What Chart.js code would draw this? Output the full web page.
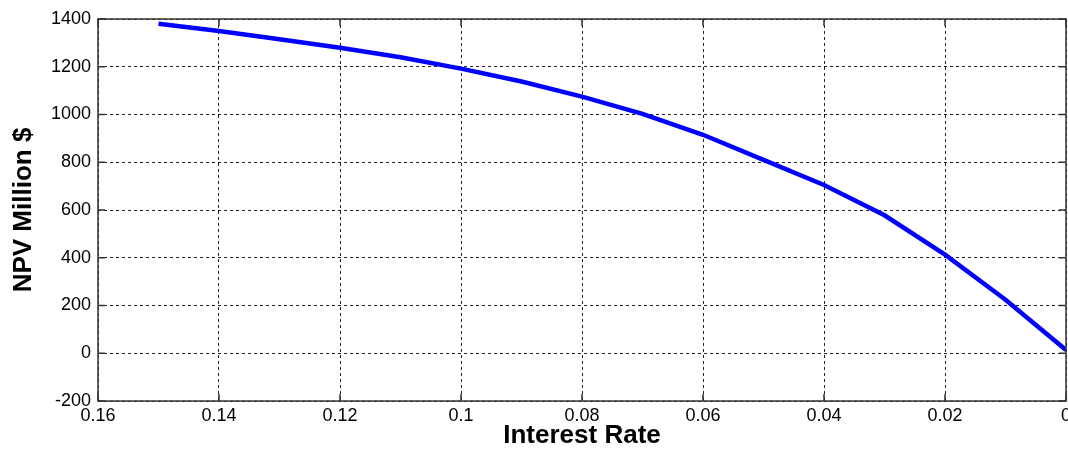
<!DOCTYPE html>
<html>
<head>
<meta charset="utf-8">
<script src="https://cdn.jsdelivr.net/npm/chart.js@4/dist/chart.umd.min.js"></script>
<style>
  html, body { margin: 0; padding: 0; background: #fff; }
  #wrap { width: 1068px; height: 449px; }
</style>
</head>
<body>
<div id="wrap"><canvas id="npvChart"></canvas></div>
<script>
const rates = [0.15, 0.14, 0.13, 0.12, 0.11, 0.10, 0.09, 0.08, 0.07, 0.06, 0.05, 0.04, 0.03, 0.02, 0.01, 0];
const npv = [1380, 1350, 1315, 1280, 1240, 1192, 1138, 1075, 1003, 915, 810, 705, 578, 413, 224, 14];
const xTicks = [0.16, 0.14, 0.12, 0.1, 0.08, 0.06, 0.04, 0.02, 0];
const yTicks = [-200, 0, 200, 400, 600, 800, 1000, 1200, 1400];

const points = rates.map((r, i) => ({ x: r, y: npv[i] }));

// box round the plot plus the small inward tick marks
const frame = {
  id: 'frame',
  afterDraw(chart) {
    const { ctx, chartArea: a, scales } = chart;
    ctx.save();
    ctx.strokeStyle = '#333';
    ctx.lineWidth = 1.5;
    ctx.setLineDash([]);
    ctx.strokeRect(a.left, a.top, a.right - a.left, a.bottom - a.top);
    ctx.beginPath();
    xTicks.forEach(v => {
      const px = scales.x.getPixelForValue(v);
      ctx.moveTo(px, a.bottom); ctx.lineTo(px, a.bottom - 7);
      ctx.moveTo(px, a.top); ctx.lineTo(px, a.top + 7);
    });
    yTicks.forEach(v => {
      const py = scales.y.getPixelForValue(v);
      ctx.moveTo(a.left, py); ctx.lineTo(a.left + 7, py);
      ctx.moveTo(a.right, py); ctx.lineTo(a.right - 7, py);
    });
    ctx.stroke();
    ctx.restore();
  }
};

const ctx = document.getElementById('npvChart').getContext('2d');
new Chart(ctx, {
  type: 'line',
  data: {
    datasets: [{
      data: points,
      borderColor: '#0000ff',
      borderWidth: 4.5,
      pointRadius: 0,
      tension: 0,
      fill: false
    }]
  },
  options: {
    responsive: true,
    maintainAspectRatio: false,
    animation: false,
    layout: { padding: { top: 19, right: 2, left: 0, bottom: 0 }, autoPadding: false },
    plugins: { legend: { display: false }, tooltip: { enabled: false } },
    scales: {
      x: {
        type: 'linear',
        reverse: true,
        min: 0,
        max: 0.16,
        afterBuildTicks: s => { s.ticks = xTicks.map(v => ({ value: v })); },
        afterFit: s => { s.height = 48; s.paddingLeft = 0; s.paddingRight = 0; },
        ticks: {
          color: '#000',
          font: { family: 'Liberation Sans, Arial', size: 18 },
          padding: 4,
          maxRotation: 0,
          callback: v => String(+v.toFixed(2))
        },
        grid: { color: '#222', lineWidth: 1, tickLength: 0, drawTicks: false },
        border: { dash: [3, 3], display: false },
        title: {
          display: true,
          text: 'Interest Rate',
          color: '#000',
          font: { family: 'Liberation Sans, Arial', size: 26, weight: 'bold', lineHeight: 1 },
          padding: { top: 0, bottom: 0 }
        }
      },
      y: {
        min: -200,
        max: 1400,
        afterBuildTicks: s => { s.ticks = yTicks.map(v => ({ value: v })); },
        afterFit: s => { s.width = 98; },
        ticks: {
          color: '#000',
          font: { family: 'Liberation Sans, Arial', size: 18 },
          padding: 7,
          callback: v => String(v)
        },
        grid: { color: '#222', lineWidth: 1, tickLength: 0, drawTicks: false },
        border: { dash: [3, 3], display: false },
        title: {
          display: true,
          text: 'NPV Million $',
          color: '#000',
          font: { family: 'Liberation Sans, Arial', size: 26, weight: 'bold' },
          padding: { top: 8, bottom: 0 }
        }
      }
    }
  },
  plugins: [frame]
});
</script>
</body>
</html>
